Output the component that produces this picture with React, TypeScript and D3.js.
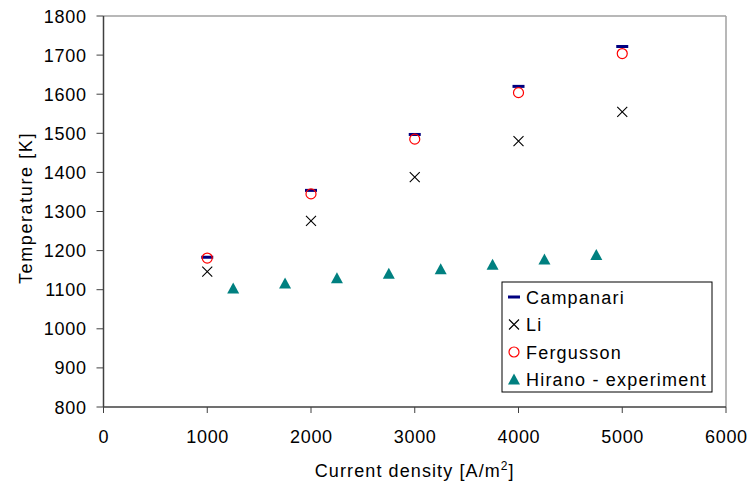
import * as d3 from "d3"

const currentDensity = [1000, 2000, 3000, 4000, 5000]
const campanari = [1183, 1354, 1497, 1620, 1722]
const li = [1146, 1276, 1388, 1480, 1555]
const fergusson = [1181, 1345, 1485, 1604, 1704]

const hiranoDensity = [1250, 1750, 2250, 2750, 3250, 3750, 4250, 4750]
const hiranoTemp = [1103, 1116, 1129, 1141, 1152, 1164, 1177, 1189]

const xTicks = [0, 1000, 2000, 3000, 4000, 5000, 6000]
const yTicks = [800, 900, 1000, 1100, 1200, 1300, 1400, 1500, 1600, 1700, 1800]

const legendItems = ["Campanari", "Li", "Fergusson", "Hirano - experiment"]

const W = 752
const H = 489
const MARGIN = { left: 103.5, top: 16, right: 26, bottom: 82 }
const FONT = "'Liberation Sans', Arial, sans-serif"

function Marker({ kind, x, y }: { kind: number; x: number; y: number }) {
  if (kind === 0) {
    return <rect x={x - 6} y={y - 1.5} width={12} height={3} fill="#000080" />
  }
  if (kind === 1) {
    const s = 5
    return (
      <path
        d={`M${x - s},${y - s}L${x + s},${y + s}M${x - s},${y + s}L${x + s},${y - s}`}
        stroke="#000"
        strokeWidth={1.1}
      />
    )
  }
  if (kind === 2) {
    return <circle cx={x} cy={y} r={5} fill="none" stroke="#ff0000" strokeWidth={1.2} />
  }
  return <path d={`M${x},${y - 6}L${x + 6},${y + 5}L${x - 6},${y + 5}Z`} fill="#008080" />
}

export default function App() {
  const x = d3.scaleLinear().domain([0, 6000]).range([MARGIN.left, W - MARGIN.right])
  const y = d3.scaleLinear().domain([800, 1800]).range([H - MARGIN.bottom, MARGIN.top])
  const [x0, x1] = x.range()
  const [y0, y1] = y.range()

  const legX = 502
  const legY = 282

  return (
    <svg
      width={W}
      height={H}
      style={{ position: "absolute", left: 0, top: 0, background: "#fff" }}
      fontFamily={FONT}
    >
      {/* frame */}
      <line x1={x0} x2={x1} y1={y1} y2={y1} stroke="#a0a0a0" strokeWidth={1.5} />
      <line x1={x1} x2={x1} y1={y1} y2={y0} stroke="#a0a0a0" strokeWidth={1.5} />
      <line x1={x0} x2={x0} y1={y1} y2={y0} stroke="#404040" strokeWidth={1.5} />
      <line x1={x0} x2={x1} y1={y0} y2={y0} stroke="#404040" strokeWidth={1.5} />

      {/* y ticks */}
      {yTicks.map((t) => (
        <g key={"y" + t}>
          <line x1={x0 - 7} x2={x0} y1={y(t)} y2={y(t)} stroke="#404040" strokeWidth={1} />
          <text x={86.7} y={y(t) + 6.5} textAnchor="end" fontSize={18} letterSpacing={0.7}>
            {t}
          </text>
        </g>
      ))}
      {/* x ticks */}
      {xTicks.map((t) => (
        <g key={"x" + t}>
          <line x1={x(t)} x2={x(t)} y1={y0} y2={y0 + 6} stroke="#404040" strokeWidth={1} />
          <text x={x(t) + 0.4} y={442.5} textAnchor="middle" fontSize={18} letterSpacing={0.7}>
            {t}
          </text>
        </g>
      ))}

      <text x={(x0 + x1) / 2} y={477} textAnchor="middle" fontSize={18} letterSpacing={1.1}>
        Current density [A/m<tspan dy={-7} fontSize={12}>2</tspan>
        <tspan dy={7}>]</tspan>
      </text>
      <text
        transform={`translate(32,208) rotate(-90)`}
        textAnchor="middle"
        fontSize={18}
        letterSpacing={1.6}
      >
        Temperature [K]
      </text>

      {/* data */}
      {currentDensity.map((d, i) => (
        <Marker key={"c" + i} kind={0} x={x(d)} y={y(campanari[i])} />
      ))}
      {currentDensity.map((d, i) => (
        <Marker key={"l" + i} kind={1} x={x(d)} y={y(li[i])} />
      ))}
      {currentDensity.map((d, i) => (
        <Marker key={"f" + i} kind={2} x={x(d)} y={y(fergusson[i])} />
      ))}
      {hiranoDensity.map((d, i) => (
        <Marker key={"h" + i} kind={3} x={x(d)} y={y(hiranoTemp[i])} />
      ))}

      {/* legend */}
      <rect x={legX} y={legY} width={210} height={110} fill="#fff" stroke="#000" strokeWidth={1} />
      {legendItems.map((name, i) => (
        <g key={name}>
          <Marker kind={i} x={legX + 12} y={legY + 15 + i * 27.5} />
          <text x={legX + 24} y={legY + 21.5 + i * 27.5} fontSize={18} letterSpacing={1.2}>
            {name}
          </text>
        </g>
      ))}
    </svg>
  )
}
